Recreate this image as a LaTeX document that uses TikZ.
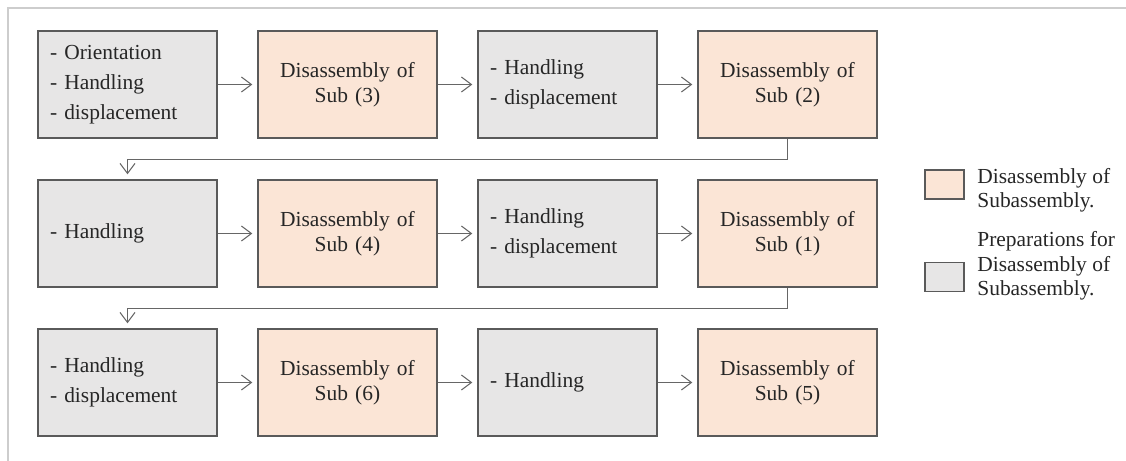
\documentclass[tikz,border=0pt]{standalone}
\usepackage{fontspec}
\setmainfont{Liberation Serif}
\usetikzlibrary{arrows.meta}

\definecolor{subfill}{HTML}{FBE5D6}
\definecolor{prepfill}{HTML}{E7E6E6}
\definecolor{boxline}{RGB}{90,90,90}
\definecolor{frameline}{RGB}{205,205,205}

\tikzset{
  box/.style={draw=boxline,line width=0.8pt,minimum width=3.58cm,minimum height=2.14cm,
    inner sep=0pt,font=\fontsize{12.2}{14}\selectfont,text=black!85},
  prepbox/.style={box,fill=prepfill,text width=3.1cm,inner xsep=0.24cm,align=left,
    font=\fontsize{12.2}{17.2}\selectfont},
  subbox/.style={box,fill=subfill,text width=3.58cm,align=center},
  keybox/.style={draw=boxline,line width=0.8pt,minimum width=0.78cm,minimum height=0.58cm},
  keytext/.style={anchor=west,inner sep=0pt,align=left,text=black!85,
    font=\fontsize{12.2}{13.8}\selectfont},
  arr/.style={draw=black!60,line width=0.6pt,shorten >=0.1cm,
    -{Straight Barb[length=0.2cm,width=0.3cm]}}
}

\begin{document}
\begin{tikzpicture}
\useasboundingbox (0,0) rectangle (22.52,-9.22);

% frame
\draw[frameline,line width=1pt] (22.52,-0.16) -- (0.16,-0.16) -- (0.16,-9.22);

% Row 1
\node[prepbox] (prep1) at (2.55,-1.69) {- Orientation\\- Handling\\- displacement};
\node[subbox] (sub3) at (6.95,-1.69) {Disassembly of\\Sub (3)};
\node[prepbox] (prep2) at (11.35,-1.69) {- Handling\\- displacement};
\node[subbox] (sub2) at (15.75,-1.69) {Disassembly of\\Sub (2)};

% Row 2
\node[prepbox] (prep3) at (2.55,-4.67) {- Handling};
\node[subbox] (sub4) at (6.95,-4.67) {Disassembly of\\Sub (4)};
\node[prepbox] (prep4) at (11.35,-4.67) {- Handling\\- displacement};
\node[subbox] (sub1) at (15.75,-4.67) {Disassembly of\\Sub (1)};

% Row 3
\node[prepbox] (prep5) at (2.55,-7.65) {- Handling\\- displacement};
\node[subbox] (sub6) at (6.95,-7.65) {Disassembly of\\Sub (6)};
\node[prepbox] (prep6) at (11.35,-7.65) {- Handling};
\node[subbox] (sub5) at (15.75,-7.65) {Disassembly of\\Sub (5)};

% arrows
\draw[arr] (prep1) -- (sub3);
\draw[arr] (sub3) -- (prep2);
\draw[arr] (prep2) -- (sub2);
\draw[arr] (sub2.south) -- ++(0,-0.42) -| (prep3.north);
\draw[arr] (prep3) -- (sub4);
\draw[arr] (sub4) -- (prep4);
\draw[arr] (prep4) -- (sub1);
\draw[arr] (sub1.south) -- ++(0,-0.42) -| (prep5.north);
\draw[arr] (prep5) -- (sub6);
\draw[arr] (sub6) -- (prep6);
\draw[arr] (prep6) -- (sub5);

% legend
\node[keybox,fill=subfill] (keysub) at (18.89,-3.69) {};
\node[keytext] (keysubtext) at (19.54,-3.80) {Disassembly of\\Subassembly.};
\node[keybox,fill=prepfill] (keyprep) at (18.89,-5.54) {};
\node[keytext] (keypreptext) at (19.54,-5.32) {Preparations for\\Disassembly of\\Subassembly.};

\end{tikzpicture}
\end{document}
